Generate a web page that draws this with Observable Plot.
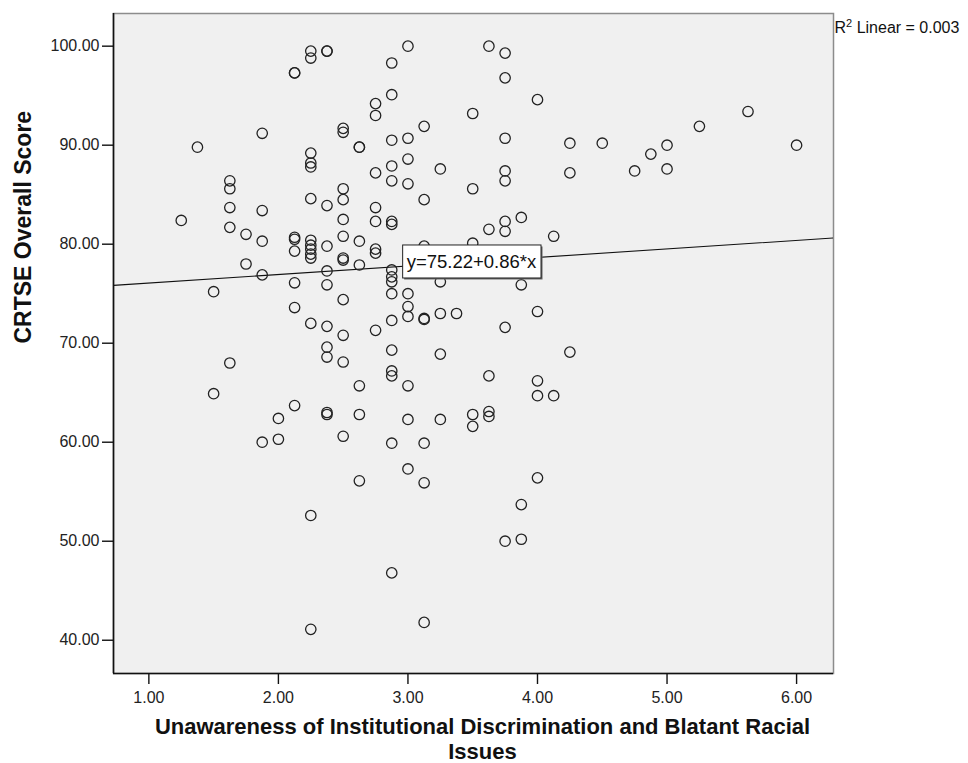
<!DOCTYPE html>
<html>
<head>
<meta charset="utf-8">
<script src="https://cdn.jsdelivr.net/npm/d3@7"></script>
<script src="https://cdn.jsdelivr.net/npm/@observablehq/plot@0.6"></script>
<style>
  html, body { margin: 0; padding: 0; background: #fff; }
  #chart svg { display: block; }
</style>
</head>
<body>
<div id="chart"></div>
<script>
// Unawareness subscale score (mean of 8 items, so steps of 0.125)
const unawarenessLevels = [
  1.25, 1.375, 1.5, 1.625, 1.75, 1.875, 2.0, 2.125, 2.25, 2.375, 2.5, 2.625,
  2.75, 2.875, 3.0, 3.125, 3.25, 3.375, 3.5, 3.625, 3.75, 3.875, 4.0, 4.125,
  4.25, 4.5, 4.75, 4.875, 5.0, 5.25, 5.625, 6.0
];

// CRTSE overall scores of the respondents at each unawareness level
const crtseScores = [
  [82.4],
  [89.8],
  [75.2, 64.9],
  [86.4, 85.6, 83.7, 81.7, 68.0],
  [81.0, 78.0],
  [91.2, 83.4, 80.3, 76.9, 60.0],
  [62.4, 60.3],
  [97.3, 97.3, 80.7, 80.5, 79.3, 76.1, 73.6, 63.7],
  [99.5, 98.8, 89.2, 88.2, 87.8, 84.6, 80.4, 79.9, 79.5, 79.0, 78.6, 72.0, 52.6, 41.1],
  [99.5, 99.5, 83.9, 79.8, 77.3, 75.9, 71.7, 69.6, 68.6, 63.0, 62.8],
  [91.7, 91.3, 85.6, 84.5, 82.5, 80.8, 78.6, 78.4, 74.4, 70.8, 68.1, 60.6],
  [89.8, 89.8, 80.3, 77.9, 65.7, 62.8, 56.1],
  [94.2, 93.0, 87.2, 83.7, 82.3, 79.5, 79.1, 71.3],
  [98.3, 95.1, 90.5, 87.9, 86.4, 82.3, 82.0, 77.4, 76.7, 76.2, 75.0, 72.3, 69.3, 67.2, 66.7, 59.9, 46.8],
  [100.0, 90.7, 88.6, 86.1, 75.0, 73.7, 72.7, 65.7, 62.3, 57.3],
  [91.9, 84.5, 79.8, 72.5, 72.4, 59.9, 55.9, 41.8],
  [87.6, 76.2, 73.0, 68.9, 62.3],
  [73.0],
  [93.2, 85.6, 80.1, 62.8, 61.6],
  [100.0, 81.5, 66.7, 63.1, 62.6],
  [99.3, 96.8, 90.7, 87.4, 86.4, 82.3, 81.3, 71.6, 50.0],
  [82.7, 75.9, 53.7, 50.2],
  [94.6, 73.2, 66.2, 64.7, 56.4],
  [80.8, 64.7],
  [90.2, 87.2, 69.1],
  [90.2],
  [87.4],
  [89.1],
  [90.0, 87.6],
  [91.9],
  [93.4],
  [90.0]
];

const xTicks = [1, 2, 3, 4, 5, 6];
const yTicks = [40, 50, 60, 70, 80, 90, 100];
const xDomain = [0.727, 6.285];
const yDomain = [36.64, 103.3];

// Fitted linear regression reported by the analysis
const fitIntercept = 75.22;
const fitSlope = 0.86;
const fitRSquared = "0.003";
const equationAtX = 2.99;

const xTitle = "Unawareness of Institutional Discrimination and Blatant Racial\nIssues";
const yTitle = "CRTSE Overall Score";

const points = unawarenessLevels.flatMap((x, i) => crtseScores[i].map(y => ({x, y})));
const fitLine = xDomain.map(x => ({x, y: fitIntercept + fitSlope * x}));
const equationText = `y=${fitIntercept.toFixed(2)}+${fitSlope.toFixed(2)}*x`;
const rSquaredText = `R2 Linear = ${fitRSquared}`;
const fmt = d3.format(".2f");
const font = "'Liberation Sans', Arial, Helvetica, sans-serif";

const chart = Plot.plot({
  width: 968,
  height: 763,
  marginLeft: 113,
  marginRight: 135,
  marginTop: 13,
  marginBottom: 90,
  style: {fontFamily: font, background: "#fff", color: "#222"},
  x: {domain: xDomain},
  y: {domain: yDomain},
  marks: [
    Plot.frame({fill: "#f0f0f0", stroke: "#8c8c8c", strokeWidth: 1.5}),
    Plot.line(fitLine, {x: "x", y: "y", stroke: "#111", strokeWidth: 1.1, clip: true}),
    Plot.dot(points, {x: "x", y: "y", r: 5.2, stroke: "#222", strokeWidth: 1.3, fill: "none"}),
    Plot.ruleX([xDomain[0]], {stroke: "#111", strokeWidth: 1.6}),
    Plot.ruleY([yDomain[0]], {stroke: "#111", strokeWidth: 1.6}),
    Plot.axisX({ticks: xTicks, tickFormat: fmt, tickSize: 11, tickPadding: 7, fontSize: 16,
                stroke: "#111", strokeWidth: 1.4, fill: "#222", label: null}),
    Plot.axisY({ticks: yTicks, tickFormat: fmt, tickSize: 11, tickPadding: 3, fontSize: 16,
                stroke: "#111", strokeWidth: 1.4, fill: "#222", label: null}),
    Plot.text([{x: equationAtX, y: fitIntercept + fitSlope * equationAtX}], {
      x: "x", y: "y", text: () => equationText, textAnchor: "start", lineAnchor: "middle",
      dy: -4, fontSize: 18.5, fill: "#111"
    }),
    Plot.text([yTitle], {
      text: d => d, frameAnchor: "left", rotate: -90, dx: -89.5, lineAnchor: "middle",
      fontSize: 23, fontWeight: "bold", fill: "#111"
    }),
    Plot.text([xTitle], {
      text: d => d, frameAnchor: "bottom", lineAnchor: "top", dy: 43, dx: 9,
      fontSize: 22, fontWeight: "bold", lineHeight: 1.12, fill: "#111"
    }),
    Plot.text([rSquaredText], {
      text: d => d, frameAnchor: "top-right", textAnchor: "start", lineAnchor: "top",
      dx: 1, dy: 8.6, fontSize: 16, fill: "#111"
    })
  ]
});

document.getElementById("chart").appendChild(chart);
const ns = "http://www.w3.org/2000/svg";

// Superscript "2" in the R-squared note
const r2Node = Array.from(chart.querySelectorAll("text")).find(t => t.textContent === rSquaredText);
if (r2Node) {
  r2Node.textContent = "R";
  const sup = document.createElementNS(ns, "tspan");
  sup.setAttribute("font-size", "11");
  sup.setAttribute("dy", "-6");
  sup.textContent = "2";
  const rest = document.createElementNS(ns, "tspan");
  rest.setAttribute("dy", "6");
  rest.textContent = ` Linear = ${fitRSquared}`;
  r2Node.appendChild(sup);
  r2Node.appendChild(rest);
}

// Boxed label with a small drop shadow behind the regression equation
const eqNode = Array.from(chart.querySelectorAll("text")).find(t => t.textContent === equationText);
if (eqNode) {
  const bb = eqNode.getBBox();
  const ctm = eqNode.getCTM();
  const svgCtm = chart.getCTM ? chart.getCTM() : null;
  const ox = ctm ? ctm.e - (svgCtm ? svgCtm.e : 0) : 0;
  const oy = ctm ? ctm.f - (svgCtm ? svgCtm.f : 0) : 0;
  const x0 = bb.x + ox - 4, y0 = bb.y + oy - 6;
  const w = bb.width + 8, h = bb.height + 12;
  const shadow = document.createElementNS(ns, "rect");
  shadow.setAttribute("x", x0 + 1.5); shadow.setAttribute("y", y0 + 1.5);
  shadow.setAttribute("width", w); shadow.setAttribute("height", h);
  shadow.setAttribute("fill", "#666");
  const box = document.createElementNS(ns, "rect");
  box.setAttribute("x", x0); box.setAttribute("y", y0);
  box.setAttribute("width", w); box.setAttribute("height", h);
  box.setAttribute("fill", "#fff"); box.setAttribute("stroke", "#222"); box.setAttribute("stroke-width", 1);
  const group = eqNode.closest("g[aria-label]") || eqNode.parentNode;
  group.parentNode.insertBefore(shadow, group);
  group.parentNode.insertBefore(box, group);
}
</script>
</body>
</html>
